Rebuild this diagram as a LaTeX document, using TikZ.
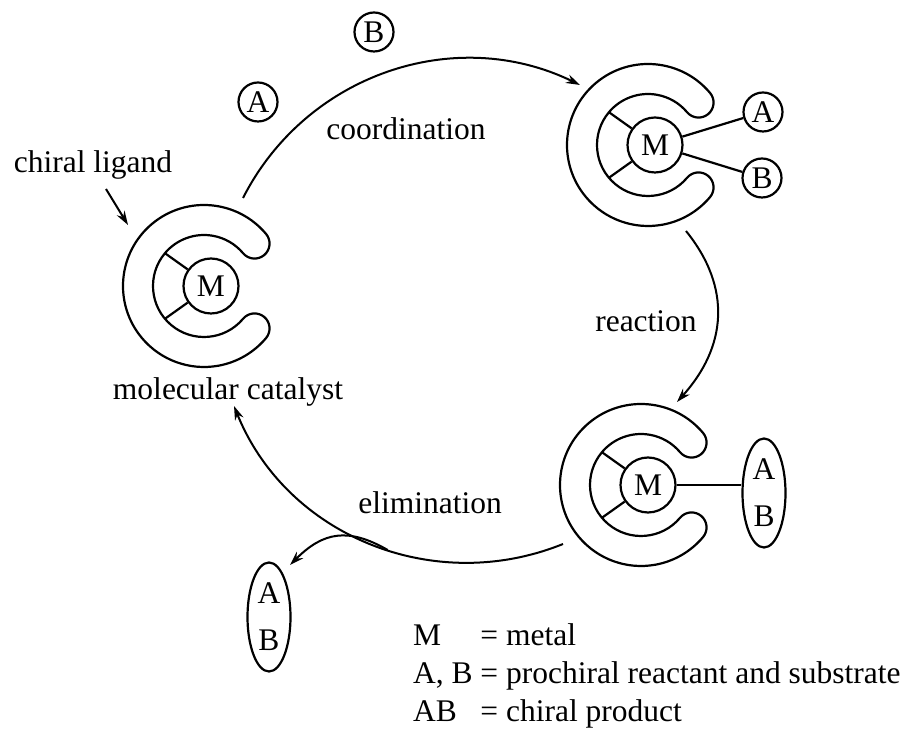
\documentclass[tikz,border=0pt]{standalone}
\usepackage{fontspec}
\setmainfont{Liberation Serif}
\usetikzlibrary{shapes.geometric,arrows.meta,calc}
\tikzset{
  metal/.style={circle, draw, minimum size=27.5pt, inner sep=0pt},
  atom/.style={circle, draw, minimum size=19.5pt, inner sep=0pt},
  product/.style={ellipse, draw, minimum width=21.5pt, minimum height=54.5pt,
    inner sep=0pt, align=center},
  cyclearrow/.style={-{Stealth[length=7pt,width=4.5pt]}, line width=1pt},
  steplabel/.style={anchor=base, inner sep=0pt},
  keylabel/.style={anchor=base west, inner sep=0pt},
  ligand/.pic={
    \draw (40:81) arc[start angle=40, end angle=320, radius=81]
      arc[start angle=320, end angle=500, radius=15]
      arc[start angle=320, end angle=40, radius=51]
      arc[start angle=220, end angle=400, radius=15] -- cycle;
    \coordinate (-up) at (140:51);
    \coordinate (-dn) at (220:51);
  },
}

\begin{document}
\begin{tikzpicture}[x=0.5pt, y=0.5pt, line width=1.1pt,
  every node/.style={font=\fontsize{15.75}{23.5}\selectfont}]
  \useasboundingbox (0,0) rectangle (911,739);
  % catalyst, free
  \pic (c1) at (204,453) {ligand};
  \node (m1) [metal] at (211,453) {M};
  \draw (m1) -- (c1-up); \draw (m1) -- (c1-dn);
  % catalyst with A and B
  \pic (c2) at (648,594) {ligand};
  \node (m2) [metal] at (655,594) {M};
  \draw (m2) -- (c2-up); \draw (m2) -- (c2-dn);
  \node (a2) [atom] at (763,627) {A};
  \node (b2) [atom] at (762,561) {B};
  \draw (m2) -- (a2); \draw (m2) -- (b2);
  % catalyst with AB
  \pic (c3) at (641,254) {ligand};
  \node (m3) [metal] at (648,254) {M};
  \draw (m3) -- (c3-up); \draw (m3) -- (c3-dn);
  \node (ab3) [product] at (764,246) {A\\B};
  \draw (m3) -- (m3 -| ab3.west);
  % free reactants and product
  \node (a0) [atom] at (258,637) {A};
  \node (b0) [atom] at (374,707) {B};
  \node (ab0) [product] at (269,122) {A\\B};
  % labels
  \node (lig) [steplabel] at (93,566) {chiral ligand};
  \node (cat) [steplabel] at (228,339) {molecular catalyst};
  \node (coord) [steplabel] at (406,599) {coordination};
  \node (react) [steplabel] at (646,407) {reaction};
  \node (elim) [steplabel] at (430,225) {elimination};
  % arrows
  \coordinate (lg1) at (106,550); \coordinate (lg2) at (128,514);
  \draw[cyclearrow] (lg1) -- (lg2);
  \coordinate (co1) at (243,541); \coordinate (co2) at (580,654);
  \draw[cyclearrow] (co1) to[out=63, in=154] (co2);
  \coordinate (re1) at (686,508); \coordinate (re2) at (677,337);
  \draw[cyclearrow] (re1) to[out=-51, in=48, looseness=1.1] (re2);
  \coordinate (el1) at (563,195); \coordinate (el2) at (234,333);
  \draw[cyclearrow] (el1) to[out=-158, in=-68] coordinate[pos=0.45] (split) (el2);
  \coordinate (pr2) at (290,174);
  \draw[cyclearrow] (split) to[out=150, in=45, looseness=1.2] (pr2);
  % legend
  \node (k1) [keylabel] at (412,93) {\makebox[2.14em][l]{M}= metal};
  \node (k2) [keylabel] at (412,55) {A, B = prochiral reactant and substrate};
  \node (k3) [keylabel] at (412,17) {\makebox[2.14em][l]{AB}= chiral product};
\end{tikzpicture}
\end{document}
